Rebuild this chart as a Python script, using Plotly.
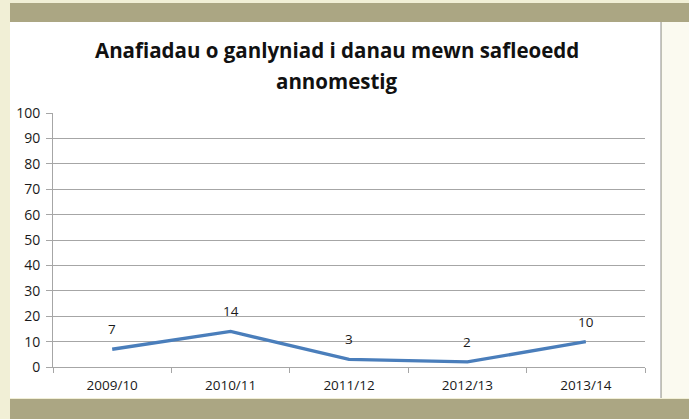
import plotly.graph_objects as go

years = ['2009/10', '2010/11', '2011/12', '2012/13', '2013/14']
injuries = [7, 14, 3, 2, 10]
y_ticks = list(range(0, 101, 10))

title_lines = ['Anafiadau o ganlyniad i danau mewn safleoedd', 'annomestig']

W, H = 689, 419
cream = '#f1efd6'
olive = '#aba683'
grid = '#a6a6a6'
font = 'Open Sans'

fig = go.Figure()
fig.add_trace(go.Scatter(
    x=years, y=injuries, mode='lines',
    line=dict(color='#4a7ebb', width=3.4),
    hoverinfo='x+y', showlegend=False,
))

# data labels above each point
for yr, v in zip(years, injuries):
    fig.add_annotation(x=yr, y=v, text=str(v), showarrow=False,
                       yshift=20, font=dict(size=13.5, color='#1a1a1a', family=font))


def px_x(p):
    return (p - 53) / 592


def px_y(p):
    return (367 - p) / 254


# title, one annotation per line (Excel-like line spacing)
for line, ypix in zip(title_lines, [50, 81]):
    fig.add_annotation(xref='paper', yref='paper', x=px_x(337), y=px_y(ypix),
                       text=line, showarrow=False, xanchor='center', yanchor='middle',
                       font=dict(size=20.5, family=font, color='#111', weight='bold'))

# page decoration: cream frame, white panel, olive bands
shapes = [
    dict(type='rect', xref='paper', yref='paper', x0=px_x(10), x1=px_x(661),
         y0=px_y(398), y1=px_y(22), fillcolor='white', line_width=0, layer='below'),
    dict(type='rect', xref='paper', yref='paper', x0=px_x(662), x1=px_x(689),
         y0=px_y(398), y1=px_y(22), fillcolor='#fbfaf0', line_width=0, layer='below'),
    dict(type='line', xref='paper', yref='paper', x0=px_x(661), x1=px_x(661),
         y0=px_y(398), y1=px_y(22), line=dict(color='#a0a0a0', width=1.2), layer='below'),
    dict(type='rect', xref='paper', yref='paper', x0=px_x(10), x1=px_x(689),
         y0=px_y(22), y1=px_y(3), fillcolor=olive, line_width=0, layer='below'),
    dict(type='rect', xref='paper', yref='paper', x0=px_x(10), x1=px_x(689),
         y0=px_y(419), y1=px_y(399), fillcolor=olive, line_width=0, layer='below'),
]

fig.update_layout(
    width=W, height=H,
    margin=dict(l=53, r=44, t=113, b=52),
    paper_bgcolor=cream, plot_bgcolor='white',
    shapes=shapes,
    font=dict(family=font, color='#1a1a1a'),
    xaxis=dict(
        type='category', range=[-0.5, 4.5], tickson='boundaries',
        ticks='outside', ticklen=5, tickcolor=grid,
        showline=True, linecolor=grid, linewidth=1,
        showgrid=False, tickfont=dict(size=13.5), ticklabelstandoff=6,
    ),
    yaxis=dict(
        range=[0, 100], tickvals=y_ticks, ticks='outside', ticklen=6, tickcolor=grid,
        showline=True, linecolor=grid, linewidth=1,
        showgrid=True, gridcolor=grid, gridwidth=1,
        zeroline=False, tickfont=dict(size=14), ticklabelstandoff=3,
    ),
)

# drop the default page margin so the figure sits at the window's corner
fig.write_html('out.html', config={'displayModeBar': False},
               post_script="document.body.style.margin='0';")
